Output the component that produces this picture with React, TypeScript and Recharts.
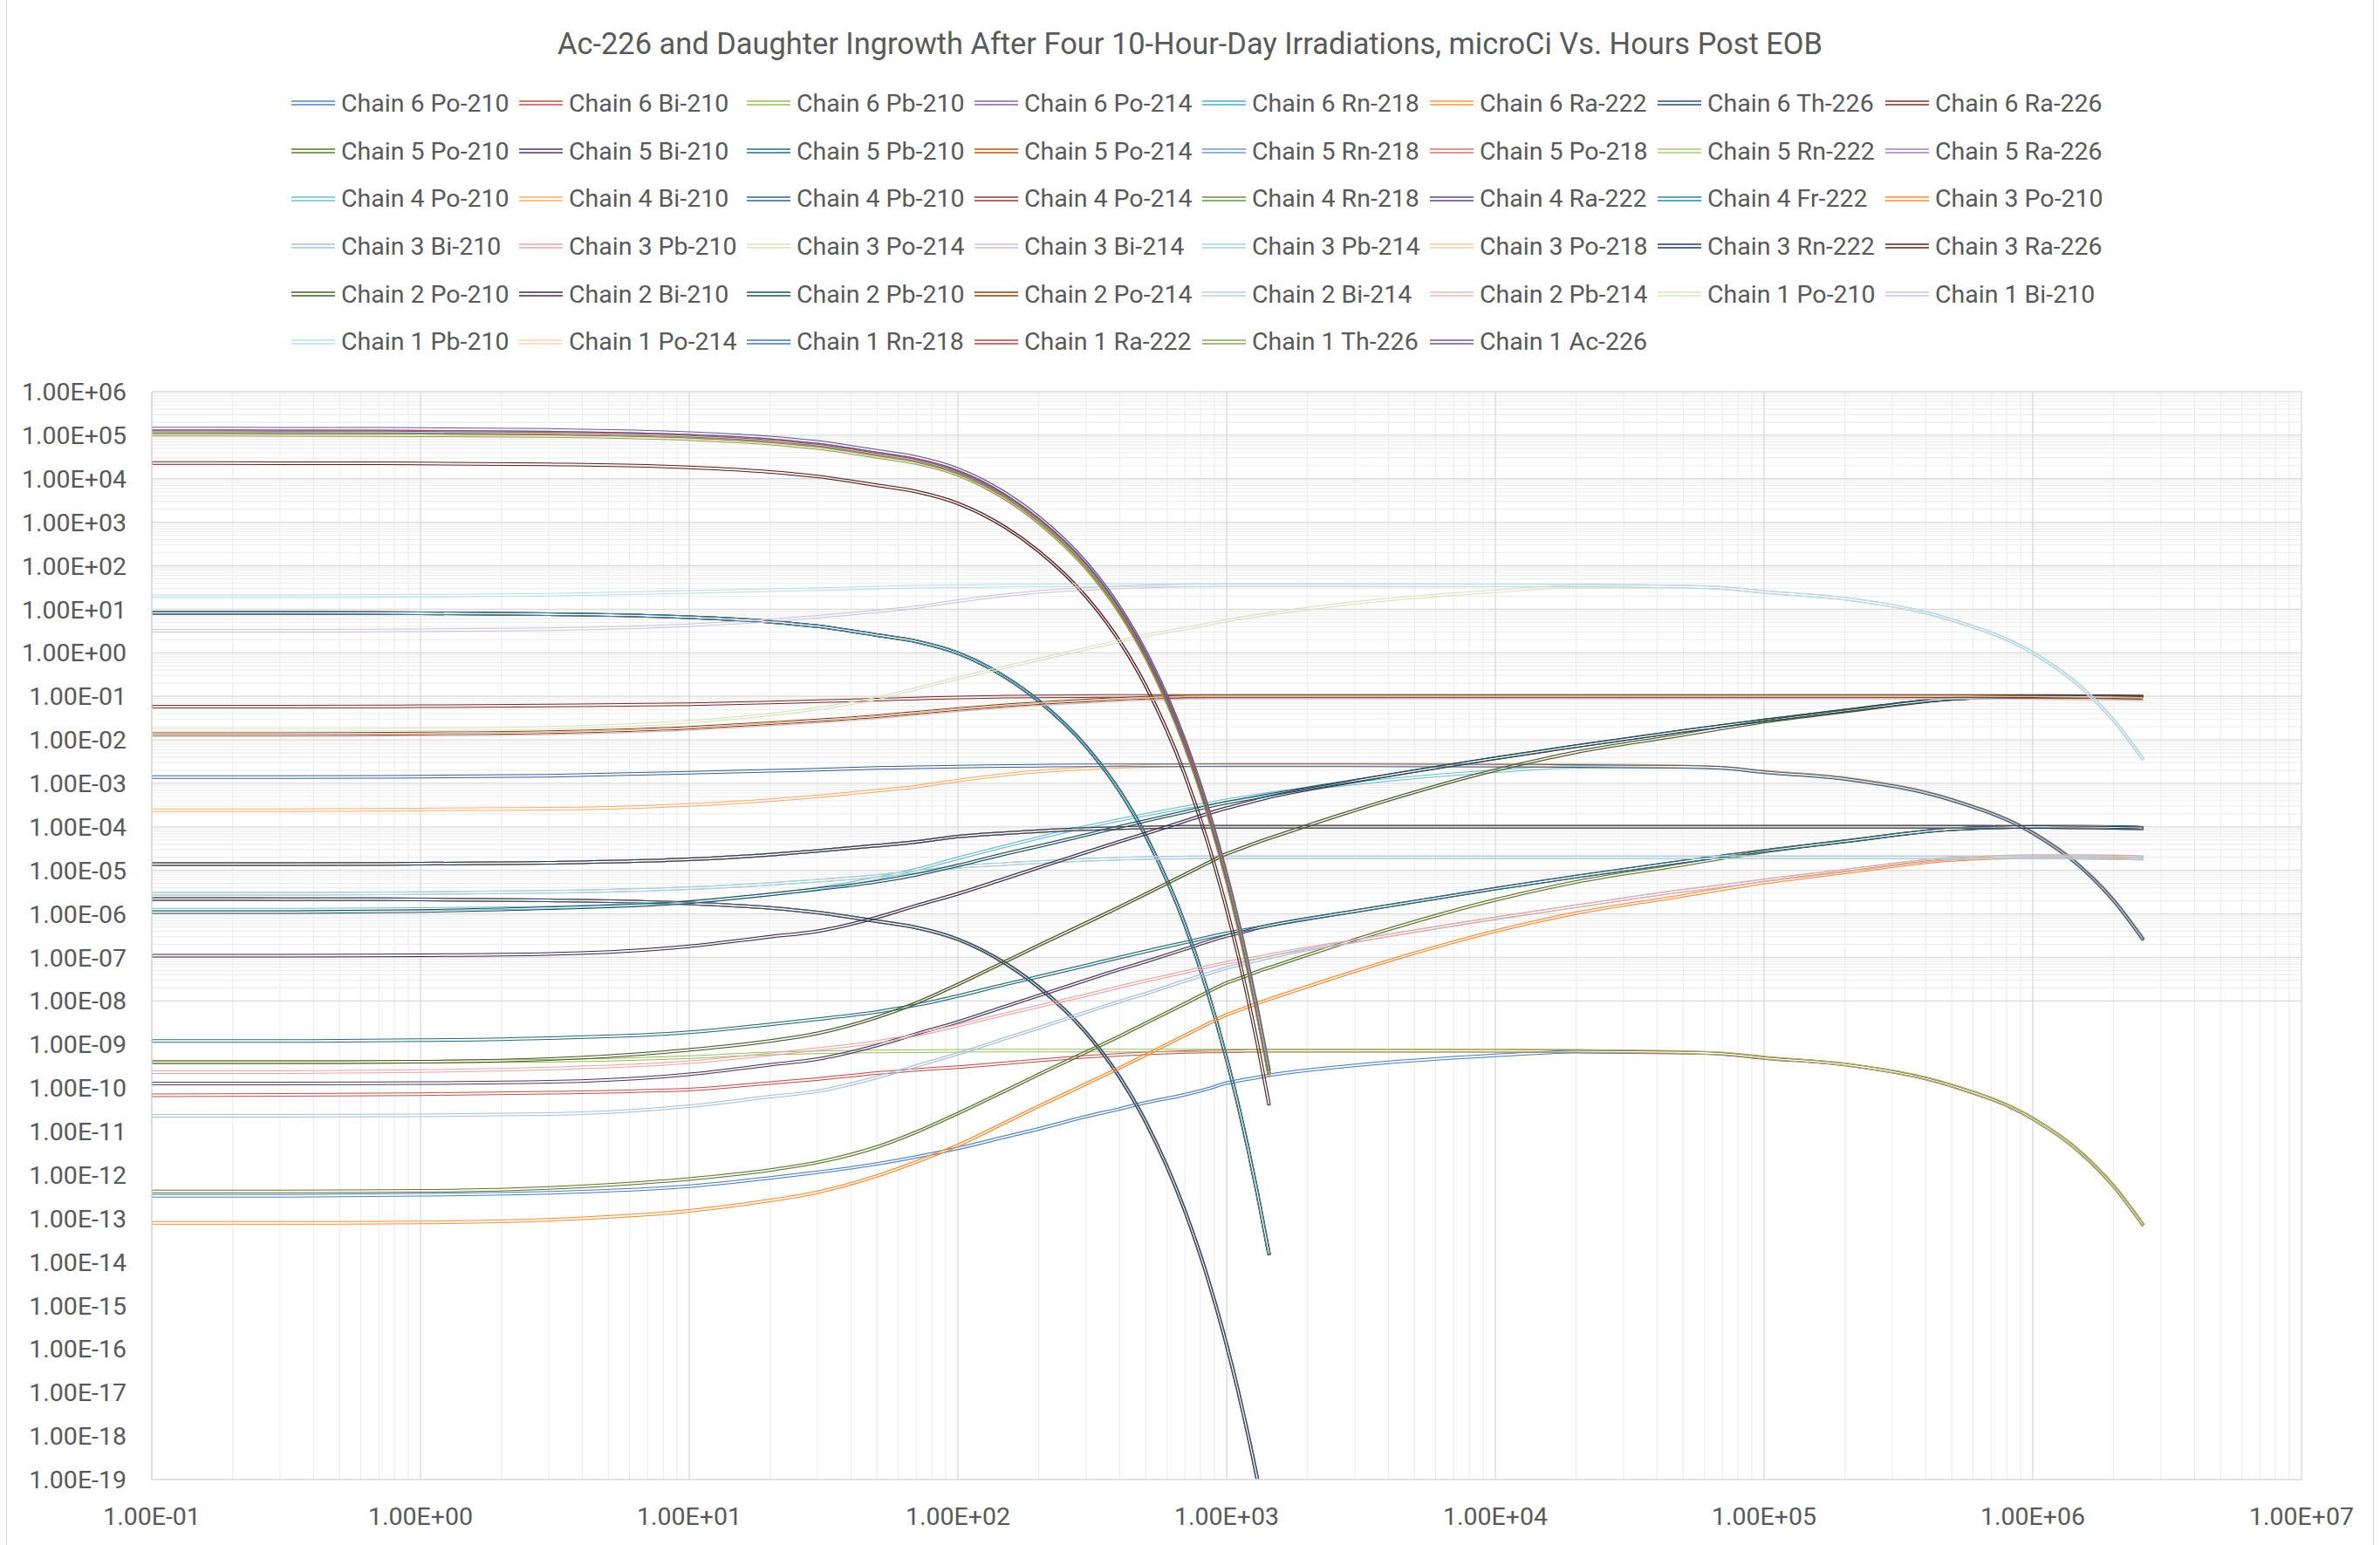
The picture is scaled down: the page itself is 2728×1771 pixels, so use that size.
import React from "react";
import { LineChart, Line, XAxis, YAxis, CartesianGrid, Legend } from "recharts";

// hours post EOB
const hours = [0.1, 0.3, 1, 3, 10, 20, 30, 50, 70, 100, 150, 200, 300, 400, 500, 700, 850, 1000, 1100, 1200, 1300, 1440, 3000, 1e4, 2e4, 5e4, 7e4, 1e5, 2e5, 5e5, 1e6, 1.5e6, 2e6, 2.58e6];

// short lived, they stop at 1440 h
const c1Ac226 = [1.42e5, 1.41e5, 1.39e5, 1.32e5, 1.12e5, 8.86e4, 7.0e4, 4.37e4, 3.13e4, 1.68e4, 4.74e3, 1.33e3, 120, 11.3, 1.07, 9.5e-3, 2.75e-4, 7.95e-6, 7.5e-7, 7.1e-8, 6.7e-9, 2.5e-10];
const c1Rn218 = [1.23e5, 1.22e5, 1.2e5, 1.14e5, 9.7e4, 7.66e4, 6.05e4, 3.78e4, 2.7e4, 1.45e4, 4.1e3, 1.14e3, 104, 9.8, 0.92, 8.2e-3, 2.38e-4, 6.9e-6, 6.5e-7, 6.1e-8, 5.8e-9, 2.14e-10];
const c1Ra222 = [1.17e5, 1.16e5, 1.14e5, 1.09e5, 9.24e4, 7.3e4, 5.76e4, 3.6e4, 2.58e4, 1.38e4, 3.9e3, 1.09e3, 98.9, 9.36, 0.878, 7.8e-3, 2.27e-4, 6.55e-6, 6.2e-7, 5.85e-8, 5.56e-9, 2.04e-10];
const c1Po214 = [1.11e5, 1.1e5, 1.08e5, 1.04e5, 8.8e4, 6.9e4, 5.5e4, 3.4e4, 2.45e4, 1.31e4, 3.7e3, 1.04e3, 94, 8.9, 0.83, 7.4e-3, 2.16e-4, 6.2e-6, 5.9e-7, 5.6e-8, 5.3e-9, 1.94e-10];
const c1Th226 = [1.03e5, 1.02e5, 1.0e5, 9.6e4, 8.13e4, 6.43e4, 5.07e4, 3.17e4, 2.28e4, 1.22e4, 3.44e3, 966, 87, 8.24, 0.773, 6.9e-3, 2.0e-4, 5.77e-6, 5.46e-7, 5.15e-8, 4.89e-9, 1.79e-10];
const c3Ra226 = [2.3e4, 2.28e4, 2.25e4, 2.14e4, 1.82e4, 1.43e4, 1.13e4, 7.07e3, 5.07e3, 2.71e3, 767, 215, 19.4, 1.84, 0.173, 1.54e-3, 4.46e-5, 1.29e-6, 1.22e-7, 1.15e-8, 1.09e-9, 4.0e-11];
const c4Fr222 = [8.3, 8.24, 8.11, 7.73, 6.56, 5.18, 4.09, 2.55, 1.83, 0.98, 0.277, 7.8e-2, 7.0e-3, 6.6e-4, 6.2e-5, 5.6e-7, 1.6e-8, 4.6e-10, 4.4e-11, 4.15e-12, 3.9e-13, 1.44e-14];
const c6Po214 = [2.2e-6, 2.18e-6, 2.15e-6, 2.05e-6, 1.74e-6, 1.37e-6, 1.08e-6, 6.76e-7, 4.85e-7, 2.6e-7, 7.3e-8, 2.06e-8, 1.86e-9, 1.76e-10, 1.65e-11, 1.47e-13, 4.27e-15, 1.23e-16, 1.17e-17, 1.1e-18, 1.05e-19, 3.8e-21];

// chain 1 tail
const c1Pb210 = [20, 20, 20.5, 21.5, 25, 27.5, 29, 31.5, 33, 34, 35, 35.5, 36, 36, 36, 36, 36, 36, 36, 36, 36, 36, 36, 35.5, 35, 33, 31, 25, 17.5, 5.7, 1.0, 0.17, 0.028, 3.5e-3];
const c1Bi210 = [3.2, 3.2, 3.3, 3.5, 4.3, 5.5, 6.7, 9.0, 11.2, 15.5, 21, 25, 29.5, 32, 33.5, 35, 35.5, 36, 36, 36, 36, 36, 36, 35.5, 35, 33, 31, 25, 17.5, 5.7, 1.0, 0.17, 0.028, 3.5e-3];
const c1Po210 = [1.7e-2, 1.7e-2, 1.75e-2, 1.9e-2, 2.6e-2, 3.8e-2, 5.2e-2, 9.0e-2, 0.15, 0.26, 0.47, 0.7, 1.25, 1.85, 2.5, 3.6, 4.5, 5.5, 6.1, 6.6, 7.1, 7.8, 14, 26, 33, 33, 31, 25, 17.5, 5.7, 1.0, 0.17, 0.028, 3.5e-3];

// chain 4 tail
const c4Pb210 = [1.4e-3, 1.4e-3, 1.42e-3, 1.5e-3, 1.75e-3, 1.95e-3, 2.05e-3, 2.25e-3, 2.35e-3, 2.42e-3, 2.5e-3, 2.55e-3, 2.6e-3, 2.6e-3, 2.6e-3, 2.6e-3, 2.6e-3, 2.6e-3, 2.6e-3, 2.6e-3, 2.6e-3, 2.6e-3, 2.6e-3, 2.55e-3, 2.5e-3, 2.4e-3, 2.25e-3, 1.8e-3, 1.26e-3, 4.1e-4, 7.2e-5, 1.22e-5, 2.0e-6, 2.5e-7];
const c4Bi210 = [2.4e-4, 2.4e-4, 2.5e-4, 2.6e-4, 3.2e-4, 4.1e-4, 5.0e-4, 6.8e-4, 8.4e-4, 1.16e-3, 1.58e-3, 1.88e-3, 2.2e-3, 2.4e-3, 2.5e-3, 2.6e-3, 2.65e-3, 2.7e-3, 2.7e-3, 2.7e-3, 2.7e-3, 2.7e-3, 2.7e-3, 2.65e-3, 2.6e-3, 2.45e-3, 2.3e-3, 1.85e-3, 1.3e-3, 4.2e-4, 7.4e-5, 1.26e-5, 2.1e-6, 2.6e-7];
const c4Po210 = [1.25e-6, 1.25e-6, 1.3e-6, 1.4e-6, 1.9e-6, 2.8e-6, 3.8e-6, 6.6e-6, 1.05e-5, 1.9e-5, 3.6e-5, 5.6e-5, 1.0e-4, 1.45e-4, 1.9e-4, 2.8e-4, 3.4e-4, 4.1e-4, 4.5e-4, 4.9e-4, 5.3e-4, 5.8e-4, 1.0e-3, 1.9e-3, 2.4e-3, 2.4e-3, 2.25e-3, 1.85e-3, 1.3e-3, 4.2e-4, 7.4e-5, 1.26e-5, 2.1e-6, 2.6e-7];

// chain 2
const c2Pb210 = [1.1e-6, 1.1e-6, 1.17e-6, 1.35e-6, 1.85e-6, 2.8e-6, 3.7e-6, 5.5e-6, 7.9e-6, 1.3e-5, 2.4e-5, 3.6e-5, 6.5e-5, 1.0e-4, 1.38e-4, 2.2e-4, 2.9e-4, 3.6e-4, 4.0e-4, 4.4e-4, 4.8e-4, 5.4e-4, 1.15e-3, 3.8e-3, 7.2e-3, 1.6e-2, 2.1e-2, 2.8e-2, 4.7e-2, 8.8e-2, 0.1, 0.1, 0.099, 0.095];
const c2Bi210 = [1.1e-7, 1.1e-7, 1.12e-7, 1.2e-7, 1.8e-7, 3.0e-7, 4.0e-7, 8.3e-7, 1.55e-6, 2.9e-6, 6.5e-6, 1.16e-5, 2.6e-5, 4.6e-5, 7.0e-5, 1.36e-4, 2.0e-4, 2.7e-4, 3.15e-4, 3.6e-4, 4.1e-4, 4.8e-4, 1.12e-3, 3.75e-3, 7.15e-3, 1.6e-2, 2.1e-2, 2.8e-2, 4.7e-2, 8.8e-2, 0.1, 0.1, 0.099, 0.095];
const c2Po210 = [3.9e-10, 3.9e-10, 4.0e-10, 4.6e-10, 7.5e-10, 1.2e-9, 1.8e-9, 4.2e-9, 9.0e-9, 2.4e-8, 8.0e-8, 1.9e-7, 6.2e-7, 1.45e-6, 2.86e-6, 8.1e-6, 1.48e-5, 2.4e-5, 3.0e-5, 3.65e-5, 4.4e-5, 5.45e-5, 2.4e-4, 2.0e-3, 5.2e-3, 1.3e-2, 1.85e-2, 2.6e-2, 4.5e-2, 8.7e-2, 0.1, 0.1, 0.099, 0.093];
const c2Po214 = [1.35e-2, 1.36e-2, 1.4e-2, 1.5e-2, 1.9e-2, 2.4e-2, 2.8e-2, 3.5e-2, 4.2e-2, 5.1e-2, 6.2e-2, 7.0e-2, 8.0e-2, 8.8e-2, 9.3e-2, 9.8e-2, 0.1, 0.1, 0.1, 0.1, 0.1, 0.1, 0.1, 0.1, 0.1, 0.1, 0.1, 0.1, 0.1, 0.1, 0.098, 0.096, 0.094, 0.092];
const c2Bi214 = [1.27e-2, 1.28e-2, 1.32e-2, 1.41e-2, 1.79e-2, 2.26e-2, 2.63e-2, 3.29e-2, 3.95e-2, 4.8e-2, 5.8e-2, 6.6e-2, 7.5e-2, 8.3e-2, 8.7e-2, 9.2e-2, 9.4e-2, 9.4e-2, 9.4e-2, 9.4e-2, 9.4e-2, 9.4e-2, 9.4e-2, 9.4e-2, 9.4e-2, 9.4e-2, 9.4e-2, 9.4e-2, 9.4e-2, 9.4e-2, 9.2e-2, 9.0e-2, 8.8e-2, 8.6e-2];
const c6Ra226 = [5.8e-2, 5.8e-2, 5.9e-2, 6.1e-2, 6.6e-2, 7.2e-2, 7.7e-2, 8.4e-2, 8.9e-2, 9.4e-2, 9.8e-2, 0.1, 0.101, 0.102, 0.102, 0.102, 0.102, 0.102, 0.102, 0.102, 0.102, 0.102, 0.102, 0.102, 0.102, 0.102, 0.102, 0.102, 0.102, 0.102, 0.102, 0.101, 0.1, 0.099];

// chain 5
const c5Po214 = [1.4e-5, 1.4e-5, 1.42e-5, 1.5e-5, 1.8e-5, 2.3e-5, 2.8e-5, 3.7e-5, 4.5e-5, 6.0e-5, 7.2e-5, 8.0e-5, 8.9e-5, 9.4e-5, 9.7e-5, 1.0e-4, 1.0e-4, 1.0e-4, 1.0e-4, 1.0e-4, 1.0e-4, 1.0e-4, 1.0e-4, 1.0e-4, 1.0e-4, 1.0e-4, 1.0e-4, 1.0e-4, 1.0e-4, 1.0e-4, 9.9e-5, 9.7e-5, 9.5e-5, 9.3e-5];
const c5Pb210 = [1.2e-9, 1.2e-9, 1.25e-9, 1.4e-9, 1.9e-9, 2.9e-9, 3.8e-9, 5.6e-9, 8.0e-9, 1.3e-8, 2.4e-8, 3.6e-8, 6.5e-8, 1.0e-7, 1.38e-7, 2.2e-7, 2.9e-7, 3.6e-7, 4.0e-7, 4.4e-7, 4.8e-7, 5.4e-7, 1.15e-6, 3.8e-6, 7.2e-6, 1.6e-5, 2.1e-5, 2.8e-5, 4.7e-5, 8.8e-5, 1.0e-4, 1.0e-4, 9.9e-5, 9.5e-5];
const c5Bi210 = [1.26e-10, 1.27e-10, 1.29e-10, 1.38e-10, 2.05e-10, 3.4e-10, 4.6e-10, 9.5e-10, 1.75e-9, 3.3e-9, 7.5e-9, 1.33e-8, 3.0e-8, 5.3e-8, 8.0e-8, 1.55e-7, 2.3e-7, 3.1e-7, 3.6e-7, 4.1e-7, 4.7e-7, 5.4e-7, 1.15e-6, 3.8e-6, 7.2e-6, 1.6e-5, 2.1e-5, 2.8e-5, 4.7e-5, 8.8e-5, 1.0e-4, 1.0e-4, 9.9e-5, 9.5e-5];
const c5Po210 = [4.2e-13, 4.2e-13, 4.3e-13, 5.0e-13, 8.1e-13, 1.3e-12, 1.95e-12, 4.4e-12, 9.7e-12, 2.6e-11, 8.6e-11, 2.05e-10, 6.7e-10, 1.55e-9, 3.1e-9, 8.7e-9, 1.6e-8, 2.6e-8, 3.2e-8, 3.9e-8, 4.7e-8, 5.8e-8, 2.55e-7, 2.1e-6, 5.4e-6, 1.35e-5, 1.9e-5, 2.7e-5, 4.6e-5, 8.8e-5, 1.0e-4, 1.0e-4, 9.9e-5, 9.4e-5];

// chain 3
const c3Pb214 = [2.9e-6, 2.9e-6, 3.0e-6, 3.2e-6, 3.9e-6, 4.9e-6, 5.8e-6, 7.5e-6, 9.2e-6, 1.2e-5, 1.4e-5, 1.55e-5, 1.75e-5, 1.85e-5, 1.92e-5, 1.98e-5, 2.0e-5, 2.0e-5, 2.0e-5, 2.0e-5, 2.0e-5, 2.0e-5, 2.0e-5, 2.0e-5, 2.0e-5, 2.0e-5, 2.0e-5, 2.0e-5, 2.0e-5, 2.0e-5, 1.98e-5, 1.95e-5, 1.9e-5, 1.85e-5];
const c3Pb210 = [2.3e-10, 2.3e-10, 2.45e-10, 2.8e-10, 3.9e-10, 5.9e-10, 7.8e-10, 1.15e-9, 1.65e-9, 2.7e-9, 5.0e-9, 7.5e-9, 1.35e-8, 2.1e-8, 2.9e-8, 4.6e-8, 6.1e-8, 7.6e-8, 8.4e-8, 9.2e-8, 1.0e-7, 1.13e-7, 2.4e-7, 8.0e-7, 1.5e-6, 3.4e-6, 4.4e-6, 5.9e-6, 9.9e-6, 1.85e-5, 2.1e-5, 2.1e-5, 2.08e-5, 2.0e-5];
const c3Bi210 = [2.3e-11, 2.3e-11, 2.35e-11, 2.5e-11, 3.8e-11, 6.3e-11, 8.4e-11, 1.75e-10, 3.2e-10, 6.1e-10, 1.37e-9, 2.4e-9, 5.5e-9, 9.7e-9, 1.47e-8, 2.9e-8, 4.2e-8, 5.7e-8, 6.6e-8, 7.6e-8, 8.6e-8, 1.0e-7, 2.35e-7, 7.9e-7, 1.5e-6, 3.4e-6, 4.4e-6, 5.9e-6, 9.9e-6, 1.85e-5, 2.1e-5, 2.1e-5, 2.08e-5, 2.0e-5];
const c3Po210 = [7.9e-14, 7.9e-14, 8.1e-14, 9.3e-14, 1.5e-13, 2.6e-13, 4.0e-13, 9.5e-13, 2.0e-12, 4.8e-12, 1.6e-11, 3.8e-11, 1.24e-10, 2.9e-10, 5.7e-10, 1.62e-9, 2.96e-9, 4.8e-9, 6.0e-9, 7.3e-9, 8.8e-9, 1.09e-8, 4.8e-8, 4.0e-7, 1.04e-6, 2.6e-6, 3.7e-6, 5.2e-6, 9.0e-6, 1.74e-5, 2.0e-5, 2.0e-5, 1.98e-5, 1.86e-5];

// chain 6 tail
const c6Pb210 = [3.9e-10, 3.9e-10, 4.0e-10, 4.2e-10, 5.1e-10, 6.2e-10, 6.6e-10, 6.9e-10, 7.0e-10, 7.1e-10, 7.2e-10, 7.2e-10, 7.2e-10, 7.2e-10, 7.2e-10, 7.2e-10, 7.2e-10, 7.2e-10, 7.2e-10, 7.2e-10, 7.2e-10, 7.2e-10, 7.2e-10, 7.2e-10, 7.1e-10, 6.6e-10, 6.2e-10, 5.0e-10, 3.5e-10, 1.14e-10, 2.0e-11, 3.4e-12, 5.6e-13, 7.0e-14];
const c6Bi210 = [6.8e-11, 6.9e-11, 7.2e-11, 7.8e-11, 9.2e-11, 1.3e-10, 1.6e-10, 2.2e-10, 2.6e-10, 3.0e-10, 3.7e-10, 4.3e-10, 5.2e-10, 5.8e-10, 6.2e-10, 6.7e-10, 6.9e-10, 7.0e-10, 7.0e-10, 7.1e-10, 7.1e-10, 7.1e-10, 7.1e-10, 7.1e-10, 7.0e-10, 6.5e-10, 6.1e-10, 4.9e-10, 3.45e-10, 1.12e-10, 1.97e-11, 3.35e-12, 5.5e-13, 6.9e-14];
const c6Po210 = [3.3e-13, 3.3e-13, 3.5e-13, 3.9e-13, 5.5e-13, 8.5e-13, 1.15e-12, 1.8e-12, 2.6e-12, 4.1e-12, 7.5e-12, 1.15e-11, 2.2e-11, 3.3e-11, 4.6e-11, 7.0e-11, 9.5e-11, 1.3e-10, 1.45e-10, 1.6e-10, 1.75e-10, 1.95e-10, 3.3e-10, 5.6e-10, 6.8e-10, 6.5e-10, 6.1e-10, 4.9e-10, 3.45e-10, 1.12e-10, 1.97e-11, 3.35e-12, 5.5e-13, 6.9e-14];

const series = [
  { name: "Chain 6 Po-210", color: "#4F81BD", values: c6Po210 },
  { name: "Chain 6 Bi-210", color: "#C0504D", values: c6Bi210 },
  { name: "Chain 6 Pb-210", color: "#9BBB59", values: c6Pb210 },
  { name: "Chain 6 Po-214", color: "#8064A2", values: c6Po214 },
  { name: "Chain 6 Rn-218", color: "#4BACC6", values: c6Po214 },
  { name: "Chain 6 Ra-222", color: "#F79646", values: c6Po214 },
  { name: "Chain 6 Th-226", color: "#2C4D75", values: c6Po214 },
  { name: "Chain 6 Ra-226", color: "#772C2A", values: c6Ra226 },
  { name: "Chain 5 Po-210", color: "#5F7530", values: c5Po210 },
  { name: "Chain 5 Bi-210", color: "#4D3B62", values: c5Bi210 },
  { name: "Chain 5 Pb-210", color: "#276A7C", values: c5Pb210 },
  { name: "Chain 5 Po-214", color: "#B65708", values: c5Po214 },
  { name: "Chain 5 Rn-218", color: "#729ACA", values: c5Po214 },
  { name: "Chain 5 Po-218", color: "#CD7371", values: c5Po214 },
  { name: "Chain 5 Rn-222", color: "#AFC97A", values: c5Po214 },
  { name: "Chain 5 Ra-226", color: "#9983B5", values: c5Po214 },
  { name: "Chain 4 Po-210", color: "#6FBDD1", values: c4Po210 },
  { name: "Chain 4 Bi-210", color: "#F9AB6B", values: c4Bi210 },
  { name: "Chain 4 Pb-210", color: "#3A5F8B", values: c4Pb210 },
  { name: "Chain 4 Po-214", color: "#8C3836", values: c4Fr222 },
  { name: "Chain 4 Rn-218", color: "#728C40", values: c4Fr222 },
  { name: "Chain 4 Ra-222", color: "#5C4776", values: c4Fr222 },
  { name: "Chain 4 Fr-222", color: "#31859C", values: c4Fr222 },
  { name: "Chain 3 Po-210", color: "#F68C36", values: c3Po210 },
  { name: "Chain 3 Bi-210", color: "#A7C0DE", values: c3Bi210 },
  { name: "Chain 3 Pb-210", color: "#E6A7A6", values: c3Pb210 },
  { name: "Chain 3 Po-214", color: "#D7E4BD", values: c3Pb214 },
  { name: "Chain 3 Bi-214", color: "#C9BFDA", values: c3Pb214 },
  { name: "Chain 3 Pb-214", color: "#A5D5E2", values: c3Pb214 },
  { name: "Chain 3 Po-218", color: "#FBC9A0", values: c5Po214 },
  { name: "Chain 3 Rn-222", color: "#203A57", values: c5Po214 },
  { name: "Chain 3 Ra-226", color: "#592120", values: c3Ra226 },
  { name: "Chain 2 Po-210", color: "#475827", values: c2Po210 },
  { name: "Chain 2 Bi-210", color: "#3A2C49", values: c2Bi210 },
  { name: "Chain 2 Pb-210", color: "#1D4F5C", values: c2Pb210 },
  { name: "Chain 2 Po-214", color: "#894106", values: c2Po214 },
  { name: "Chain 2 Bi-214", color: "#B9CDE5", values: c2Bi214 },
  { name: "Chain 2 Pb-214", color: "#E6B9B8", values: c2Bi214 },
  { name: "Chain 1 Po-210", color: "#D7E4BD", values: c1Po210 },
  { name: "Chain 1 Bi-210", color: "#CCC1DA", values: c1Bi210 },
  { name: "Chain 1 Pb-210", color: "#B7DEE8", values: c1Pb210 },
  { name: "Chain 1 Po-214", color: "#FCD5B5", values: c1Po214 },
  { name: "Chain 1 Rn-218", color: "#4674AB", values: c1Rn218 },
  { name: "Chain 1 Ra-222", color: "#AA4644", values: c1Ra222 },
  { name: "Chain 1 Th-226", color: "#89A54E", values: c1Th226 },
  { name: "Chain 1 Ac-226", color: "#71588F", values: c1Ac226 },
];

const xTicks = [0.1, 1, 10, 100, 1e3, 1e4, 1e5, 1e6, 1e7];
const yTicks = [1e-19, 1e-18, 1e-17, 1e-16, 1e-15, 1e-14, 1e-13, 1e-12, 1e-11, 1e-10, 1e-9, 1e-8, 1e-7, 1e-6, 1e-5, 1e-4, 1e-3, 1e-2, 1e-1, 1, 10, 100, 1e3, 1e4, 1e5, 1e6];
// the horizontal gridlines only show from 1e-8 upwards
const yGridMajor = yTicks.filter((v) => v >= 1e-8);

const steps = [2, 3, 4, 5, 6, 7, 8, 9];
const xMinor = xTicks.slice(0, -1).flatMap((d) => steps.map((m) => m * d));
const yMinor = yGridMajor.slice(0, -1).flatMap((d) => steps.map((m) => m * d));

const rows = hours.map((h, i) => {
  const row: Record<string, number | null> = { h };
  series.forEach((s, k) => {
    const v = s.values[i];
    row[`s${k}`] = v === undefined ? null : v;
  });
  return row;
});

const sci = (v: number) => {
  const e = Math.round(Math.log10(v));
  return `1.00E${e < 0 ? "-" : "+"}${String(Math.abs(e)).padStart(2, "0")}`;
};

const FONT = "Roboto, 'Open Sans', sans-serif";
const TEXT = "#595959";

const renderLegend = () => (
  <div
    style={{
      display: "grid",
      gridTemplateColumns: "repeat(8, 261px)",
      gridAutoRows: "54.7px",
      alignItems: "center",
      fontFamily: FONT,
      fontSize: 28.5,
      color: TEXT,
    }}
  >
    {series.map((s) => (
      <div key={s.name} style={{ display: "flex", alignItems: "center", whiteSpace: "nowrap" }}>
        <svg width={50} height={8} style={{ marginRight: 7, flex: "none" }}>
          <line x1={0} x2={50} y1={2} y2={2} stroke={s.color} strokeWidth={1.3} />
          <line x1={0} x2={50} y1={6} y2={6} stroke={s.color} strokeWidth={1.3} />
        </svg>
        <span>{s.name}</span>
      </div>
    ))}
  </div>
);

const App = () => {
  return (
    <div style={{ position: "relative", width: 2728, height: 1771, background: "#fff", overflow: "hidden" }}>
      <style>{`body{margin:0} .recharts-line-curve{filter:url(#dbl)}`}</style>
      <svg width={0} height={0} style={{ position: "absolute" }}>
        <defs>
          <filter id="dbl" filterUnits="userSpaceOnUse" x={0} y={0} width={2728} height={1771}>
            <feMorphology in="SourceAlpha" operator="erode" radius={1} result="core" />
            <feComposite in="SourceGraphic" in2="core" operator="out" />
          </filter>
        </defs>
      </svg>
      <div
        style={{
          position: "absolute",
          top: 0,
          left: 7,
          width: 2714,
          height: 1771,
          borderLeft: "1.5px solid #D9D9D9",
          borderRight: "1.5px solid #D9D9D9",
          boxSizing: "border-box",
        }}
      />
      <div
        style={{
          position: "absolute",
          top: 30,
          left: 0,
          width: 2728,
          textAlign: "center",
          fontFamily: FONT,
          fontSize: 34.4,
          lineHeight: "40px",
          color: TEXT,
        }}
      >
        Ac-226 and Daughter Ingrowth After Four 10-Hour-Day Irradiations, microCi Vs. Hours Post EOB
      </div>
      <LineChart width={2728} height={1771} data={rows} margin={{ top: 449, right: 90, bottom: 15, left: 24 }}>
        <CartesianGrid stroke="#EEEEEE" strokeWidth={1.2} horizontalValues={yMinor} verticalValues={xMinor} />
        <CartesianGrid stroke="#D9D9D9" strokeWidth={1.3} horizontalValues={yGridMajor} verticalValues={xTicks} />
        <XAxis
          dataKey="h"
          type="number"
          scale="log"
          domain={[0.1, 1e7]}
          ticks={xTicks}
          interval={0}
          allowDataOverflow
          tickFormatter={sci}
          height={60}
          tickSize={0}
          tickMargin={32}
          tickLine={false}
          axisLine={{ stroke: "#D9D9D9", strokeWidth: 1.5 }}
          tick={{ fill: TEXT, fontSize: 28.5, fontFamily: FONT }}
        />
        <YAxis
          type="number"
          scale="log"
          domain={[1e-19, 1e6]}
          ticks={yTicks}
          interval={0}
          allowDataOverflow
          tickFormatter={sci}
          width={150}
          tickSize={0}
          tickMargin={29}
          tickLine={false}
          axisLine={{ stroke: "#D9D9D9", strokeWidth: 1.5 }}
          tick={{ fill: TEXT, fontSize: 28.5, fontFamily: FONT }}
        />
        <Legend
          verticalAlign="middle"
          align="center"
          layout="horizontal"
          content={renderLegend}
          wrapperStyle={{ top: 91, left: 334, width: 2100, height: 330 }}
        />
        {series.map((s, k) => (
          <Line
            key={s.name}
            dataKey={`s${k}`}
            name={s.name}
            type="monotone"
            stroke={s.color}
            strokeWidth={4}
            dot={false}
            activeDot={false}
            connectNulls={false}
            isAnimationActive={false}
          />
        ))}
      </LineChart>
    </div>
  );
};

export default App;
